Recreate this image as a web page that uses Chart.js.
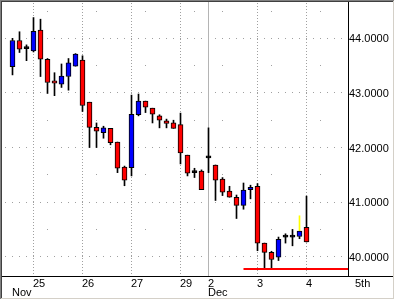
<!DOCTYPE html>
<html>
<head>
<meta charset="utf-8">
<script src="https://cdn.jsdelivr.net/npm/chart.js@4"></script>
<style>
html, body { margin: 0; padding: 0; background: #fff; }
canvas { display: block; }
</style>
</head>
<body>
<canvas id="grafico" width="395" height="300"></canvas>
<script>
// Barras de 1 hora, 22 Nov a 4 Dez (indice = barra)
const opens  = [43.48, 43.96, 43.81, 43.77, 44.15, 43.615, 43.22, 43.16, 43.30, 43.49,
                43.60, 42.83, 42.37, 42.27, 42.35, 42.10, 41.64, 41.63, 42.60, 42.85,
                42.72, 42.58, 42.49, 42.45, 42.42, 41.86, 41.54, 41.57, 41.81, 41.68,
                41.42, 41.20, 41.09, 40.94, 41.23, 41.29, 40.25, 40.08, 39.99, 40.36,
                40.36, 40.37, 40.54];
const highs  = [44.00, 44.12, 43.88, 44.38, 44.35, 43.63, 43.37, 43.53, 43.63, 43.72,
                43.68, 42.83, 42.45, 42.39, 42.35, 42.10, 41.66, 42.96, 42.98, 42.85,
                42.72, 42.60, 42.52, 42.50, 42.63, 41.86, 41.62, 41.59, 42.36, 41.68,
                41.45, 41.29, 41.13, 41.35, 41.31, 41.34, 40.25, 40.10, 40.36, 40.42,
                40.50, 40.75, 41.11];
const lows   = [43.33, 43.74, 43.59, 43.75, 43.30, 42.99, 42.95, 43.10, 43.05, 43.49,
                42.66, 42.00, 42.00, 42.17, 42.05, 41.54, 41.30, 41.48, 42.58, 42.64,
                42.45, 42.36, 42.36, 42.35, 41.70, 41.48, 41.45, 41.23, 41.54, 41.03,
                41.12, 41.09, 40.70, 40.87, 41.06, 40.11, 39.80, 39.80, 39.93, 40.25,
                40.20, 40.33, 40.27];
const closes = [43.96, 43.80, 43.81, 44.13, 43.62, 43.19, 43.18, 43.31, 43.55, 43.71,
                42.77, 42.37, 42.30, 42.36, 42.09, 41.62, 41.40, 42.61, 42.85, 42.74,
                42.61, 42.50, 42.44, 42.35, 41.90, 41.53, 41.54, 41.23, 41.81, 41.40,
                41.18, 41.09, 40.94, 41.22, 41.27, 40.25, 40.08, 39.95, 40.32, 40.36,
                40.36, 40.47, 40.27];
const barraDestaque = 41;   // sombra superior amarela

const priceTicks = [40, 41, 42, 43, 44];
const dayTicks   = [3, 10, 17, 24, 28, 35, 42, 49];
const dayLabels  = ["25", "26", "27", "29", "2", "3", "4", "5th"];
const monthTicks = [0, 28];
const monthLabels = ["Nov", "Dec"];
const monthBreaks = [28];

const supportLevel = 39.775;
const supportFrom = 33;

const W = 395, H = 300;
const xMin = -9.5 / 7, xMax = xMin + 345 / 7;
const fonte = '11px "Liberation Sans", Arial, sans-serif';

const corCorpo = closes.map((c, i) => c > opens[i] ? "#0000ff" : c < opens[i] ? "#ff0000" : "#000000");
const corSombraSup = closes.map((c, i) => i === barraDestaque ? "#ffff00" : "#000000");

const moldura = {
  id: "moldura",
  beforeDatasetsDraw(chart) {
    const { ctx, chartArea: a, scales: { x, y } } = chart;
    ctx.save();
    ctx.fillStyle = "#a0a0a0";
    // linhas de preco pontilhadas
    for (const v of priceTicks) {
      const py = Math.floor(y.getPixelForValue(v));
      for (let i = Math.ceil(x.min); i <= Math.floor(x.max); i++) {
        ctx.fillRect(Math.floor(x.getPixelForValue(i)), py, 1, 1);
      }
    }
    // pontos menores
    for (const d of dayTicks) {
      const px = Math.floor(x.getPixelForValue(d + 2));
      if (px >= a.right) continue;
      for (let v = 39.5; v < y.max; v += 1) {
        if (v < y.min) continue;
        ctx.fillRect(px, Math.floor(y.getPixelForValue(v)), 1, 1);
      }
    }
    // dias
    for (const d of dayTicks) {
      const px = Math.floor(x.getPixelForValue(d));
      if (px >= a.right) continue;
      if (monthBreaks.includes(d)) {
        ctx.fillStyle = "#b4b4b4";
        ctx.fillRect(px, a.top, 1, a.bottom - a.top);
      } else {
        ctx.fillStyle = "#a0a0a0";
        for (let py = a.top + 1; py < a.bottom; py += 3) ctx.fillRect(px, py, 1, 1);
      }
    }
    ctx.restore();
  },
  afterDraw(chart) {
    const { ctx, chartArea: a, scales: { x, y } } = chart;
    ctx.save();
    ctx.fillStyle = "#000";
    ctx.fillRect(a.right, a.top, 1, a.bottom - a.top);
    ctx.fillRect(2, a.bottom, W - 4, 1);

    ctx.font = fonte;
    ctx.textAlign = "left";
    ctx.textBaseline = "alphabetic";
    for (const v of priceTicks) {
      ctx.fillText(v.toFixed(4), a.right + 1, Math.round(y.getPixelForValue(v)) + 4);
    }
    dayTicks.forEach((d, k) => {
      ctx.fillText(dayLabels[k], Math.floor(x.getPixelForValue(d)), a.bottom + 11);
    });
    monthTicks.forEach((d, k) => {
      ctx.fillText(monthLabels[k], Math.floor(x.getPixelForValue(d)), a.bottom + 20);
    });

    // borda afundada
    ctx.fillStyle = "#808080";
    ctx.fillRect(0, 0, W, 1);
    ctx.fillRect(0, 0, 1, H);
    ctx.fillStyle = "#404040";
    ctx.fillRect(1, 1, W - 2, 1);
    ctx.fillRect(1, 1, 1, H - 2);
    ctx.fillStyle = "#ffffff";
    ctx.fillRect(0, H - 1, W, 1);
    ctx.fillRect(W - 1, 0, 1, H);
    ctx.fillStyle = "#d4d0c8";
    ctx.fillRect(1, H - 2, W - 2, 1);
    ctx.fillRect(W - 2, 1, 1, H - 2);
    ctx.restore();
  }
};

new Chart(document.getElementById("grafico"), {
  type: "bar",
  data: {
    datasets: [{
      label: "corpo",
      data: closes.map((c, i) => ({ x: i, y: [opens[i], c] })),
      backgroundColor: corCorpo,
      borderColor: "#000",
      borderWidth: 1,
      borderSkipped: false,
      barThickness: 5,
      minBarLength: 2,
      grouped: false,
      order: 0
    }, {
      label: "sombra sup",
      data: highs.map((h, i) => ({ x: i, y: [Math.max(opens[i], closes[i]), h] })),
      backgroundColor: corSombraSup,
      barThickness: 1,
      grouped: false,
      order: 1
    }, {
      label: "sombra inf",
      data: lows.map((l, i) => ({ x: i, y: [l, Math.min(opens[i], closes[i])] })),
      backgroundColor: "#000",
      barThickness: 1,
      grouped: false,
      order: 1
    }, {
      type: "line",
      label: "suporte",
      data: [{ x: supportFrom, y: supportLevel }, { x: 48, y: supportLevel }],
      borderColor: "#ff0000",
      borderWidth: 2,
      pointRadius: 0,
      order: 2
    }]
  },
  options: {
    responsive: false,
    animation: false,
    devicePixelRatio: 1,
    layout: { padding: { left: 3, top: 2, right: 0, bottom: 0 } },
    plugins: { legend: { display: false }, tooltip: { enabled: false } },
    scales: {
      x: {
        type: "linear", min: xMin, max: xMax, offset: false,
        grid: { display: false }, border: { display: false }, ticks: { display: false },
        afterFit: s => { s.height = 24; }
      },
      y: {
        position: "right", min: 39.647, max: 44.665,
        grid: { display: false }, border: { display: false }, ticks: { display: false },
        afterFit: s => { s.width = 47; }
      }
    }
  },
  plugins: [moldura]
});
</script>
</body>
</html>
